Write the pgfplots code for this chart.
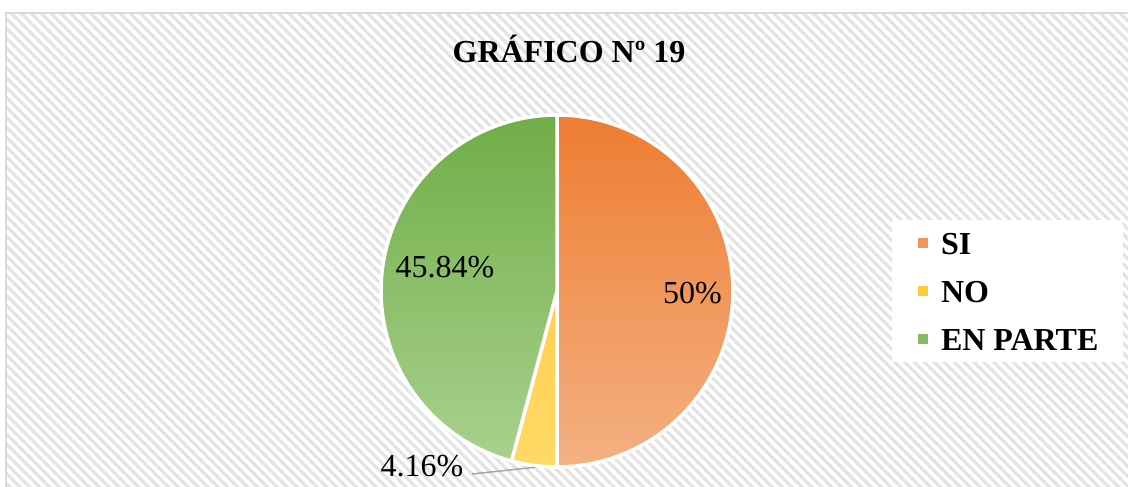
\documentclass[border=0pt]{standalone}
\usepackage{pgfplots}
\pgfplotsset{compat=1.18}
\usepackage{pgfplotstable}
\usepackage{fontspec}
\setmainfont{Liberation Serif}
\usetikzlibrary{patterns.meta}
\definecolor{orA}{HTML}{ED7D31}
\definecolor{orB}{HTML}{F4B183}
\definecolor{yeA}{HTML}{FFD04F}
\definecolor{yeB}{HTML}{FFD966}
\definecolor{grA}{HTML}{70AD47}
\definecolor{grB}{HTML}{A9D18E}
\definecolor{legOr}{HTML}{F0955C}
\definecolor{legYe}{HTML}{FFC93C}
\definecolor{legGr}{HTML}{86BC62}
\definecolor{hatch}{HTML}{E3E3E3}
\definecolor{frame}{HTML}{D9D9D9}
\pgfplotstableread{
label value
SI 50
NO 4.16
EN 45.84
}\piedata
\newcommand\bigfont{\fontsize{32}{38}\selectfont}
\begin{document}
\begin{tikzpicture}
\pgfplotstablegetelem{0}{value}\of\piedata \edef\vA{\pgfplotsretval}
\pgfplotstablegetelem{1}{value}\of\piedata \edef\vB{\pgfplotsretval}
\pgfplotstablegetelem{2}{value}\of\piedata \edef\vC{\pgfplotsretval}
\pgfmathsetmacro\aA{90}
\pgfmathsetmacro\aB{\aA-3.6*\vA}
\pgfmathsetmacro\aC{\aB-3.6*\vB}
\pgfmathsetmacro\aD{\aC-3.6*\vC}
\path (0,0) rectangle (1128pt,487pt);
\begin{axis}[at={(0,0)}, anchor=south west, scale only axis,
  width=1128pt, height=487pt, xmin=0, xmax=1128, ymin=0, ymax=487,
  hide axis, clip=true,
  legend image code/.code={\fill[#1, draw=white, line width=0.8pt] (0pt,-5.5pt) rectangle (11pt,5.5pt);},
  legend style={at={(axis cs:892,267)}, anchor=north west, draw=none, fill=white,
    font=\bigfont\bfseries, legend cell align=left, row sep=26pt,
    inner xsep=25pt, inner ysep=12pt,
    nodes={inner sep=0pt, text height=22pt, text depth=0pt},
    /tikz/every odd column/.append style={column sep=12pt}},
]
\fill[pattern={Lines[angle=-45,distance=7pt,line width=3.2pt]}, pattern color=hatch]
  (6,0) rectangle (1128,474);
\draw[frame, line width=1.5pt] (6,0) -- (6,474) -- (1128,474);
% slices
\addplot[forget plot, draw=white, line width=3.5pt, line join=round, top color=orA, bottom color=orB,
  domain=\aB:\aA, samples=120, variable=\t] ({557+176*cos(\t)},{196+176*sin(\t)}) -- (557,196) -- cycle;
\addplot[forget plot, draw=white, line width=3.5pt, line join=round, top color=yeA, bottom color=yeB,
  domain=\aC:\aB, samples=20, variable=\t] ({557+176*cos(\t)},{196+176*sin(\t)}) -- (557,196) -- cycle;
\addplot[forget plot, draw=white, line width=3.5pt, line join=round, top color=grA, bottom color=grB,
  domain=\aD:\aC, samples=120, variable=\t] ({557+176*cos(\t)},{196+176*sin(\t)}) -- (557,196) -- cycle;
\addlegendimage{fill=legOr}\addlegendentry{SI}
\addlegendimage{fill=legYe}\addlegendentry{NO}
\addlegendimage{fill=legGr}\addlegendentry{EN PARTE}
% title and labels
\node[anchor=base, font=\bigfont\bfseries, inner sep=0pt] at (569,424.5) {GRÁFICO Nº 19};
\node[anchor=base, font=\bigfont, inner sep=0pt] at (692.5,183.7) {\vA\%};
\node[anchor=base, font=\bigfont, inner sep=0pt] at (445,209) {\vC\%};
\draw[black!35, line width=1.5pt] (472,13) -- (535,19.7);
\node[anchor=base, font=\bigfont, inner sep=0pt] at (422,10.3) {\vB\%};
\end{axis}
\end{tikzpicture}
\end{document}
